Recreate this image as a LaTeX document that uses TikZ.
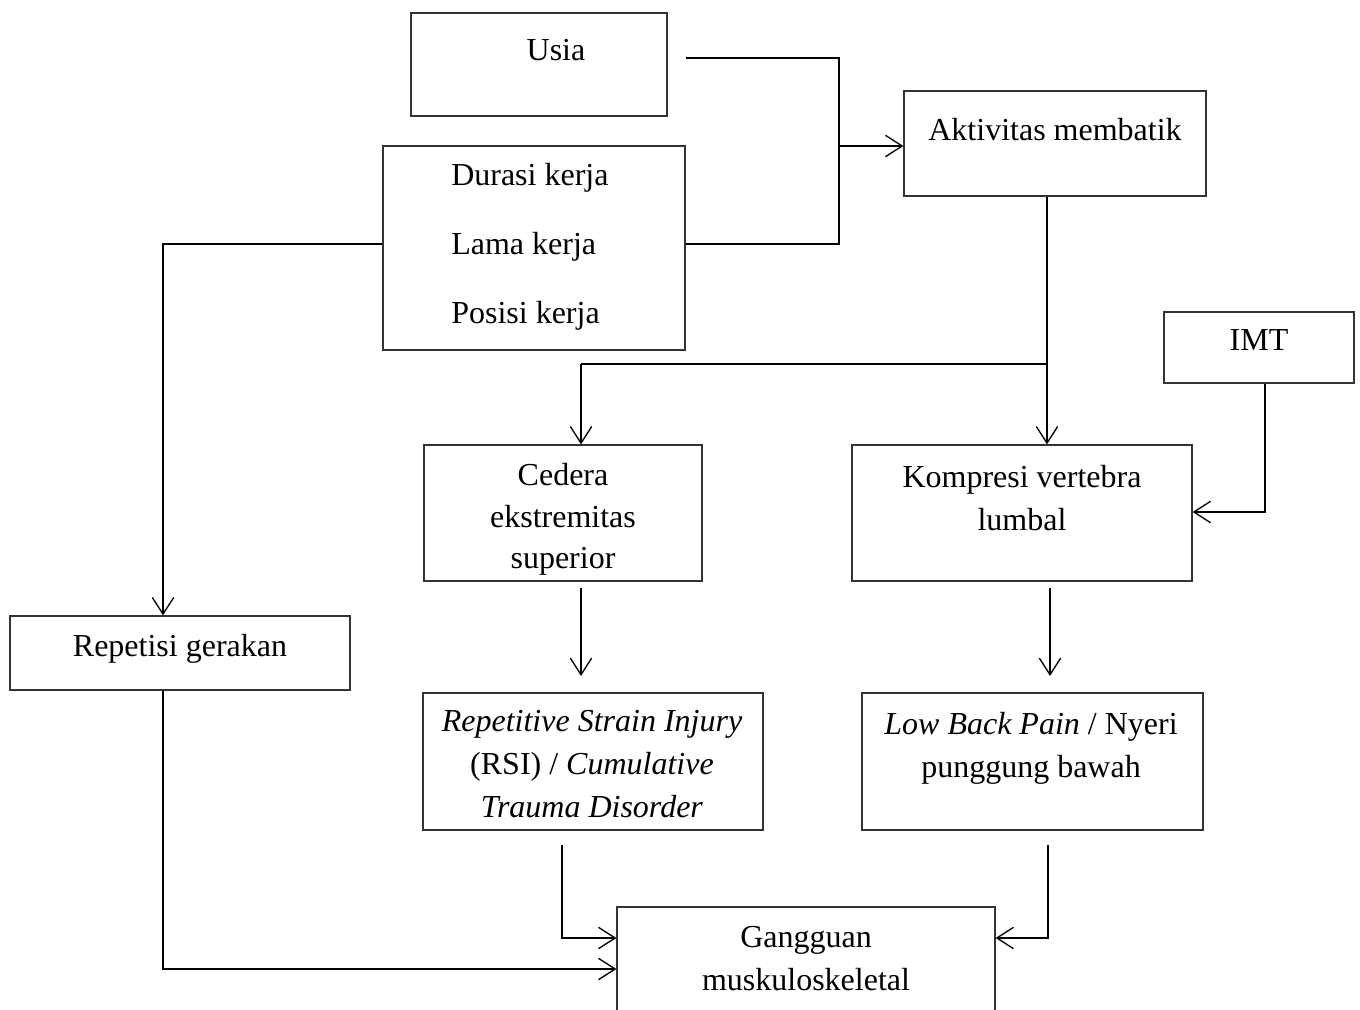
\documentclass[tikz,border=0pt]{standalone}
\usepackage{fontspec}
\setmainfont{Liberation Serif}
\usetikzlibrary{arrows.meta,fit}
\begin{document}
\begin{tikzpicture}[x=0.75pt,y=-0.75pt,
  box/.style={draw=black!80, line width=0.9pt, inner sep=0pt},
  txt/.style={font=\fontsize{24pt}{32pt}\selectfont, inner sep=0pt, anchor=base},
  conn/.style={line width=1.35pt},
  arr/.style={conn, -{Straight Barb[length=12.5pt,width=16pt,line width=1pt]}}]
\useasboundingbox (0,0) rectangle (1360,1010);
\clip (0,0) rectangle (1360,1010);
% boxes
\node[box, fit={(411,13) (667,116)}] (usia) {};
\node[box, fit={(383,146) (685,350)}] (durasi) {};
\node[box, fit={(904,91) (1206,196)}] (aktiv) {};
\node[box, fit={(1164,312) (1354,383)}] (imt) {};
\node[box, fit={(424,445) (702,581)}] (ced) {};
\node[box, fit={(852,445) (1192,581)}] (komp) {};
\node[box, fit={(10,616) (350,690)}] (rep) {};
\node[box, fit={(423,693) (763,830)}] (rsi) {};
\node[box, fit={(862,693) (1203,830)}] (lbp) {};
\node[box, fit={(617,907) (995,1040)}] (gang) {};
% texts
\node[txt] (tUsia) at (556,60) {Usia};
\node[txt, anchor=base west] (tDur) at (451,185) {Durasi kerja};
\node[txt, anchor=base west] (tLama) at (451,254) {Lama kerja};
\node[txt, anchor=base west] (tPos) at (451,323) {Posisi kerja};
\node[txt] (tAkt) at (1055,140) {Aktivitas membatik};
\node[txt] (tImt) at (1259,350) {IMT};
\node[txt] (tCed1) at (563,485) {Cedera};
\node[txt] (tCed2) at (563,527) {ekstremitas};
\node[txt] (tCed3) at (563,568) {superior};
\node[txt] (tKom1) at (1022,487) {Kompresi vertebra};
\node[txt] (tKom2) at (1022,530) {lumbal};
\node[txt] (tRep) at (180,656) {Repetisi gerakan};
\node[txt] (tRsi1) at (592,731) {\textit{Repetitive Strain Injury}};
\node[txt] (tRsi2) at (592,774) {(RSI) / \textit{Cumulative}};
\node[txt] (tRsi3) at (592,817) {\textit{Trauma Disorder}};
\node[txt] (tLbp1) at (1031,734) {\textit{Low Back Pain} / Nyeri};
\node[txt] (tLbp2) at (1031,777) {punggung bawah};
\node[txt] (tGan1) at (806,947) {Gangguan};
\node[txt] (tGan2) at (806,990) {muskuloskeletal};
% junction coordinates
\coordinate (uS) at (686,58);
\coordinate (jTop) at (839,58);
\coordinate (jMid) at (839,146);
\coordinate (jBot) at (839,244);
\coordinate (lx) at (163,244);
\coordinate (sp) at (1047,364);
\coordinate (sl) at (581,364);
\coordinate (ic) at (1265,512);
\coordinate (c1) at (581,588);
\coordinate (c2) at (581,676);
\coordinate (k1) at (1050,588);
\coordinate (k2) at (1050,676);
\coordinate (r1) at (562,845);
\coordinate (r2) at (562,938);
\coordinate (l1) at (1048,845);
\coordinate (l2) at (1048,938);
\coordinate (p2) at (163,969);
% connectors
\draw[conn] (uS) -- (jTop) -- (jBot) -- (durasi.east |- jBot);
\draw[arr] (jMid) -- (aktiv.west |- jMid);
\draw[arr] (durasi.west |- lx) -- (lx) -- (lx |- rep.north);
\draw[arr] (aktiv.south -| sp) -- (sp |- komp.north);
\draw[conn] (sp) -- (sl);
\draw[arr] (sl) -- (sl |- ced.north);
\draw[arr] (imt.south -| ic) -- (ic) -- (ic -| komp.east);
\draw[arr] (c1) -- (c2);
\draw[arr] (k1) -- (k2);
\draw[arr] (r1) -- (r2) -- (r2 -| gang.west);
\draw[arr] (l1) -- (l2) -- (l2 -| gang.east);
\draw[arr] (rep.south -| p2) -- (p2) -- (p2 -| gang.west);
\end{tikzpicture}
\end{document}
